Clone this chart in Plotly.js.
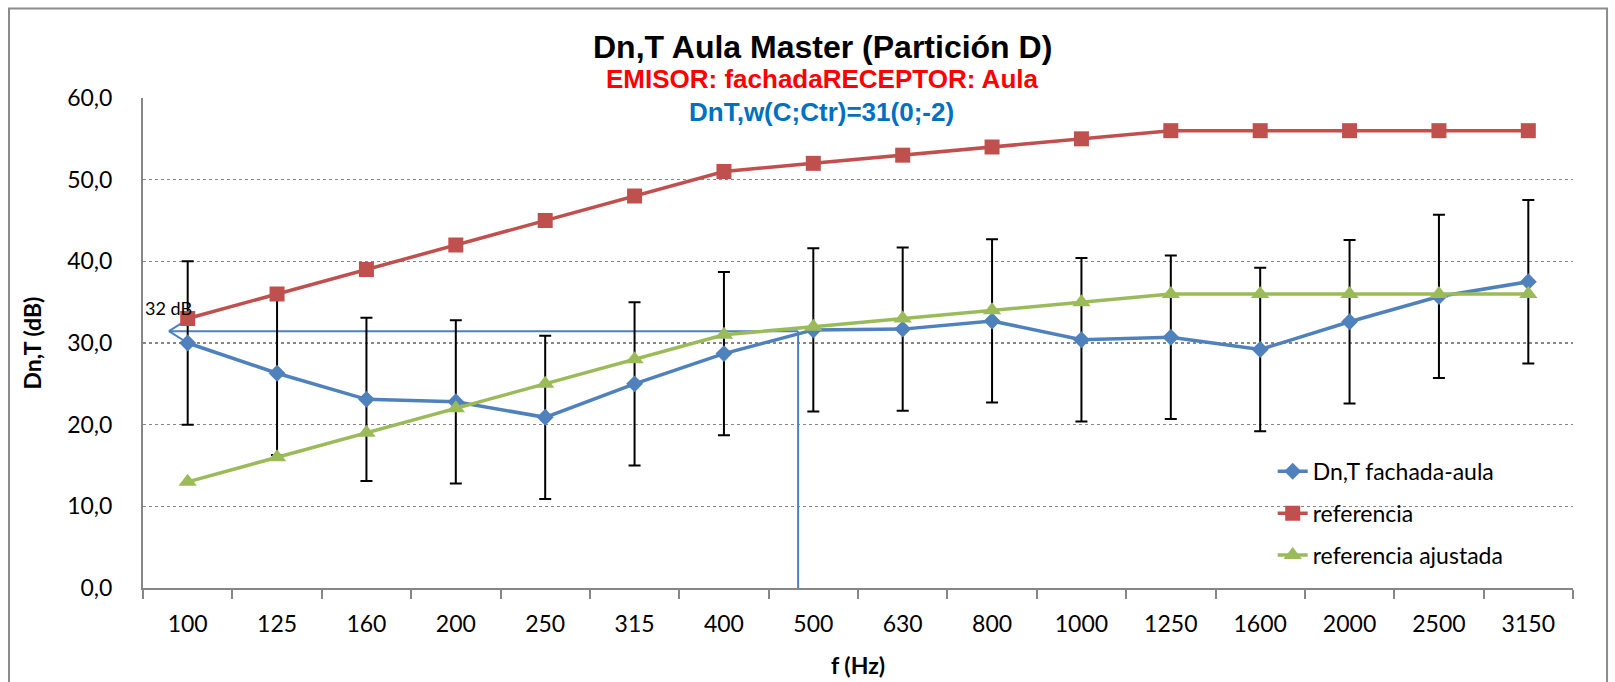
<!DOCTYPE html>
<html>
<head>
<meta charset="utf-8">
<script src="https://cdn.plot.ly/plotly-3.0.1.min.js"></script>
<style>html,body{margin:0;padding:0;background:#fff}#chart{width:1615px;height:682px}</style>
</head>
<body>
<div id="chart"></div>
<script>
// ---- data ----
const frequencies = ['100','125','160','200','250','315','400','500','630','800','1000','1250','1600','2000','2500','3150'];
const dnTFachadaAula = [30.0,26.3,23.1,22.8,20.9,25.0,28.7,31.6,31.7,32.7,30.4,30.7,29.2,32.6,35.7,37.5];
const dnTError = [10,10,10,10,10,10,10,10,10,10,10,10,10,10,10,10];
const referencia = [33,36,39,42,45,48,51,52,53,54,55,56,56,56,56,56];
const referenciaAjustada = [13,16,19,22,25,28,31,32,33,34,35,36,36,36,36,36];
const yTickVals = [0,10,20,30,40,50,60];
// reading marker (category index positions, dB values)
const markerLevel = 31.45;
const markerTipX = -0.21;
const markerDropX = 6.83;
const markerArmX = 0;
const markerArmY = [32.9, 30.0];
const markerLabel = '32 dB';
const markerLabelX = -0.217;
const markerLabelY = 34.3;
const titleText = 'Dn,T Aula Master (Partición D)';
const subtitleText = 'EMISOR: fachadaRECEPTOR: Aula';
const ratingText = 'DnT,w(C;Ctr)=31(0;-2)';

const BLUE = '#4F81BD', RED = '#C0504D', GREEN = '#9BBB59', GRID = '#868686';
const TICKFONT = {family: 'Lato, Carlito, sans-serif', size: 23, color: '#000'};

const traces = [
  {
    name: 'Dn,T fachada-aula', x: frequencies, y: dnTFachadaAula, type: 'scatter', mode: 'lines+markers',
    line: {color: BLUE, width: 3.5}, marker: {symbol: 'diamond', size: 13, color: BLUE},
    error_y: {type: 'data', array: dnTError, visible: true, color: '#000', thickness: 2, width: 6},
    legendgroup: 'a'
  },
  {
    name: 'referencia', x: frequencies, y: referencia, type: 'scatter', mode: 'lines+markers',
    line: {color: RED, width: 3.5}, marker: {symbol: 'square', size: 15, color: RED},
    legendgroup: 'b'
  },
  {
    name: 'referencia ajustada', x: frequencies, y: referenciaAjustada, type: 'scatter', mode: 'lines+markers',
    line: {color: GREEN, width: 3.5}, marker: {symbol: 'triangle-up', size: 16, color: GREEN},
    legendgroup: 'c'
  }
];

const markerLine = {color: BLUE, width: 2};
const shapes = [
  {type: 'line', xref: 'x', yref: 'y', x0: markerTipX, y0: markerLevel, x1: markerDropX, y1: markerLevel, line: markerLine, layer: 'between'},
  {type: 'line', xref: 'x', yref: 'y', x0: markerDropX, y0: markerLevel, x1: markerDropX, y1: 0, line: markerLine, layer: 'between'},
  {type: 'line', xref: 'x', yref: 'y', x0: markerTipX, y0: markerLevel, x1: markerArmX, y1: markerArmY[0], line: markerLine, layer: 'between'},
  {type: 'line', xref: 'x', yref: 'y', x0: markerTipX, y0: markerLevel, x1: markerArmX, y1: markerArmY[1], line: markerLine, layer: 'between'},
  {type: 'rect', xref: 'paper', yref: 'paper', x0: -0.0937, x1: 1.0238, y0: -0.25, y1: 1.1826, line: {color: '#8c8c8c', width: 2}, layer: 'below'}
];

const annotations = [
  {text: '<b>' + titleText + '</b>', xref: 'paper', yref: 'paper', x: 0.475, y: 1.104, showarrow: false, xanchor: 'center', yanchor: 'middle',
   font: {family: 'Liberation Sans, Arial, sans-serif', size: 32, color: '#000'}},
  {text: '<b>' + subtitleText + '</b>', xref: 'paper', yref: 'paper', x: 0.4745, y: 1.0378, showarrow: false, xanchor: 'center', yanchor: 'middle',
   font: {family: 'Liberation Sans, Arial, sans-serif', size: 26, color: '#FF0000'}},
  {text: '<b>' + ratingText + '</b>', xref: 'paper', yref: 'paper', x: 0.4745, y: 0.971, showarrow: false, xanchor: 'center', yanchor: 'middle',
   font: {family: 'Liberation Sans, Arial, sans-serif', size: 26, color: '#0070C0'}},
  {text: markerLabel, xref: 'x', yref: 'y', x: markerLabelX, y: markerLabelY, showarrow: false, xanchor: 'center', yanchor: 'middle',
   font: {family: 'Lato, sans-serif', size: 18, color: '#000'}}
];

const layout = {
  width: 1615, height: 682,
  margin: {l: 143, r: 42, t: 97.5, b: 94.3, pad: 0},
  paper_bgcolor: '#fff', plot_bgcolor: '#fff',
  separators: ',.',
  showlegend: true,
  legend: {x: 0.79, y: 0.282, xanchor: 'left', yanchor: 'top', bgcolor: 'rgba(0,0,0,0)', borderwidth: 0,
           font: {family: 'Lato, sans-serif', size: 23, color: '#000'}, tracegroupgap: 9, traceorder: 'grouped'},
  xaxis: {
    type: 'category', range: [-0.5, 15.5], tickson: 'boundaries', ticks: 'outside', ticklen: 9, tickwidth: 2, tickcolor: GRID,
    showline: true, linecolor: GRID, linewidth: 2, showgrid: false, zeroline: false,
    tickfont: TICKFONT, ticklabelstandoff: 14,
    title: {text: '<b>f (Hz)</b>', font: {family: 'Lato, sans-serif', size: 23, color: '#000'}, standoff: 22}
  },
  yaxis: {
    range: [0, 60], tickvals: yTickVals, tickformat: '.1f', ticks: '', showline: true, linecolor: GRID, linewidth: 2,
    showgrid: true, gridcolor: GRID, gridwidth: 1.5, griddash: 'dot', zeroline: false,
    tickfont: TICKFONT, ticklabelstandoff: 24,
    title: {text: '<b>Dn,T (dB)</b>', font: {family: 'Lato, sans-serif', size: 23, color: '#000'}, standoff: 19}
  },
  shapes: shapes,
  annotations: annotations
};

Plotly.newPlot('chart', traces, layout, {displayModeBar: false, staticPlot: true});
</script>
</body>
</html>
